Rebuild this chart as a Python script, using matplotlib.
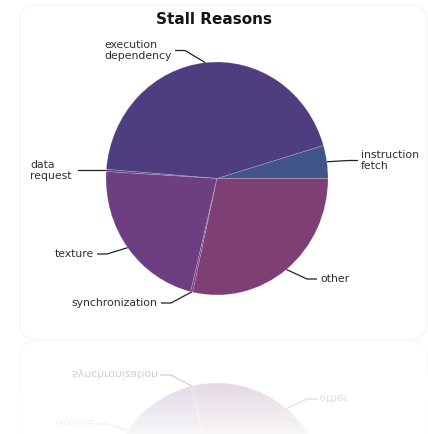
import numpy as np
import matplotlib
matplotlib.use("Agg")
import matplotlib.pyplot as plt
from matplotlib.patches import FancyBboxPatch, PathPatch
from matplotlib.textpath import TextPath
from matplotlib.font_manager import FontProperties
from matplotlib.transforms import Affine2D

# data
labels = ["instruction\nfetch", "execution\ndependency", "data\nrequest",
          "texture", "synchronization", "other"]
values = [4.6, 44.3, 0.3, 22.2, 0.3, 28.6]
colors = ["#42558a", "#4e3e80", "#5f3f82", "#6d3f82", "#753f7d", "#7e3f74"]

# label layout in pixels (x of text, y center, ha, x where leader starts)
label_pos = [
    (361, 160.5, "left", 358),
    (104, 50.5, "left", 175),
    (30, 170.5, "left", 78),
    (94, 254, "right", 97),
    (157, 303, "right", 161),
    (320, 279, "left", 317),
]

W, H = 428, 434
MIRROR = 339          # y of the reflection axis (pixels, from top)
TXT = "#2e2e2e"
FS = 7.8

fig = plt.figure(figsize=(W / 100, H / 100), dpi=100)


def px_axes(left, top, right, bottom):
    return fig.add_axes([left / W, 1 - bottom / H, (right - left) / W, (bottom - top) / H])


edge = dict(edgecolor=(1, 1, 1, 0.22), linewidth=0.5)

# main pie (slightly taller than wide, as in the picture)
ax_pie = px_axes(106, 62, 328, 295)
wedges, _ = ax_pie.pie(values, colors=colors, startangle=0, counterclock=True, wedgeprops=edge)
ax_pie.set_aspect("auto")
ax_pie.set_xlim(-1, 1)
ax_pie.set_ylim(-1, 1)
ax_pie.axis("off")

# reflected pie (mirror about y = MIRROR)
ax_ref = px_axes(106, 2 * MIRROR - 295, 328, 2 * MIRROR - 62)
ax_ref.pie(values, colors=colors, startangle=0, counterclock=True, wedgeprops=edge)
ax_ref.set_aspect("auto")
ax_ref.set_xlim(-1, 1)
ax_ref.set_ylim(1, -1)
ax_ref.axis("off")

# overlay in pixel coords (y downwards)
ax = fig.add_axes([0, 0, 1, 1])
ax.set_xlim(0, W)
ax.set_ylim(H, 0)
ax.axis("off")
ax.patch.set_alpha(0)

# frames
ax.add_patch(FancyBboxPatch((20, 5), 407, MIRROR - 5, boxstyle="round,pad=0,rounding_size=16",
                            fc="none", ec="#f3f3f3", lw=0.8, zorder=0))
ax.add_patch(FancyBboxPatch((20, MIRROR + 2), 407, MIRROR - 5, boxstyle="round,pad=0,rounding_size=16",
                            fc="none", ec="#e8e8e8", lw=0.8, zorder=1))

ax.text(214, 20, "Stall Reasons", ha="center", va="center", fontsize=11,
        fontweight="bold", color="#151515", zorder=10)

fp = FontProperties(family="DejaVu Sans", size=FS)
to_px = ax.transData.inverted()

for w, lab, (tx, ty, ha, lx) in zip(wedges, labels, label_pos):
    mid = np.deg2rad((w.theta1 + w.theta2) / 2)
    ex, ey = to_px.transform(ax_pie.transData.transform((np.cos(mid), np.sin(mid))))
    # horizontal stub away from the text, then straight to the wedge
    stub = 10 if ex > lx else -10
    xs = [lx, lx + stub, ex]
    ys = [ty, ty, ey]
    ax.plot(xs, ys, color="#222222", lw=0.9, zorder=10, solid_capstyle="butt")
    ax.text(tx, ty, lab, ha=ha, va="center", fontsize=FS, color=TXT,
            linespacing=1.15, zorder=10)

    # reflection of labels that fall in the reflected band
    ry = 2 * MIRROR - ty
    if ry < H + 10:
        ax.plot(xs, [2 * MIRROR - v for v in ys], color="#222222", lw=0.9, zorder=2)
        tp = TextPath((0, 0), lab, prop=fp, size=FS * 100 / 72)
        bb = tp.get_extents()
        x0 = tx if ha == "left" else tx - bb.width
        # glyphs point down in this axes -> mirrored text
        tr = Affine2D().translate(x0 - bb.x0, ry - 0.35 * FS * 100 / 72) + ax.transData
        ax.add_patch(PathPatch(tp, fc=TXT, ec="none", transform=tr, zorder=2))

# white fade over the reflection
vis = np.linspace(0.33, 0.04, 100)
grad = np.ones((100, 1, 4))
grad[:, 0, 3] = 1 - vis
ax.imshow(grad, extent=[0, W, H, MIRROR], aspect="auto", zorder=5, interpolation="bilinear")
ax.set_xlim(0, W)
ax.set_ylim(H, 0)

fig.savefig("out.png", dpi=100, facecolor="white")
